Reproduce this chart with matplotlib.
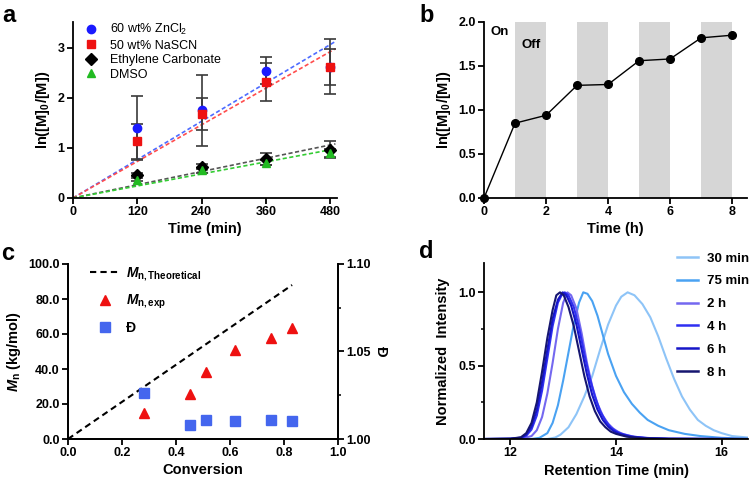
import numpy as np
import matplotlib
matplotlib.use("Agg")
from matplotlib import pyplot as plt
from matplotlib.lines import Line2D

plt.rcParams['font.family'] = ['Liberation Sans', 'DejaVu Sans']
plt.rcParams['mathtext.fontset'] = 'custom'
plt.rcParams['mathtext.it'] = 'Liberation Sans:italic:bold'
plt.rcParams['mathtext.rm'] = 'Liberation Sans:bold'
plt.rcParams['mathtext.bf'] = 'Liberation Sans:bold'
plt.rcParams['axes.linewidth'] = 1.3
plt.rcParams['xtick.major.width'] = 1.3
plt.rcParams['ytick.major.width'] = 1.3
plt.rcParams['xtick.minor.width'] = 1.1
plt.rcParams['ytick.minor.width'] = 1.1
plt.rcParams['xtick.major.size'] = 4
plt.rcParams['ytick.major.size'] = 4
plt.rcParams['ytick.minor.size'] = 2.5

# ---- panel a: kinetics in different solvents
time_min = [120, 240, 360, 480]
zncl2 = [1.40, 1.75, 2.54, 2.62]
zncl2_err = [0.64, 0.70, 0.27, 0.55]
nascn = [1.14, 1.68, 2.32, 2.62]
nascn_err = [0.35, 0.31, 0.37, 0.36]
ec = [0.47, 0.63, 0.78, 0.97]
ec_err = [0.03, 0.05, 0.12, 0.17]
dmso = [0.37, 0.56, 0.71, 0.90]
dmso_err = [0.03, 0.05, 0.05, 0.08]

# ---- panel b: on/off light switching
time_h = [0, 1, 2, 3, 4, 5, 6, 7, 8]
ln_conv = [0.0, 0.85, 0.94, 1.28, 1.29, 1.56, 1.58, 1.82, 1.85]
off_periods = [(1, 2), (3, 4), (5, 6), (7, 8)]

# ---- panel c: Mn and dispersity vs conversion
theo_conv = [0.0, 0.83]
theo_mn = [0.0, 88.0]
conversion = [0.28, 0.45, 0.51, 0.62, 0.75, 0.83]
mn_exp = [15.0, 26.0, 38.5, 51.0, 57.5, 63.5]
dispersity = [1.026, 1.008, 1.011, 1.010, 1.011, 1.010]

# ---- panel d: GPC traces
gpc_labels = ['30 min', '75 min', '2 h', '4 h', '6 h', '8 h']
gpc_colors = ['#8ec4f7', '#4aa2f2', '#7468f0', '#2f2ff2', '#1616c8', '#161670']
rt_30 = [11.5, 12.7, 12.85, 12.95, 13.1, 13.25, 13.4, 13.55, 13.7, 13.85, 14.0, 14.1, 14.22,
         14.35, 14.5, 14.65, 14.8, 14.95, 15.1, 15.25, 15.4, 15.55, 15.7, 15.85, 16.0, 16.2, 16.5]
it_30 = [0, 0, 0.01, 0.03, 0.08, 0.17, 0.29, 0.43, 0.61, 0.78, 0.91, 0.97, 1.0,
         0.98, 0.92, 0.83, 0.70, 0.55, 0.41, 0.29, 0.20, 0.13, 0.09, 0.06, 0.04, 0.02, 0.01]
rt_75 = [11.5, 12.4, 12.55, 12.7, 12.8, 12.9, 13.0, 13.1, 13.2, 13.3, 13.38, 13.46, 13.55, 13.65,
         13.75, 13.85, 14.0, 14.15, 14.3, 14.45, 14.6, 14.8, 15.0, 15.3, 15.6, 16.0, 16.5]
it_75 = [0, 0, 0.008, 0.04, 0.11, 0.23, 0.40, 0.59, 0.78, 0.93, 1.0, 0.99, 0.94, 0.84,
         0.71, 0.58, 0.43, 0.32, 0.24, 0.18, 0.13, 0.09, 0.06, 0.035, 0.02, 0.008, 0.002]
rt_2h = [11.5, 12.2, 12.4, 12.5, 12.6, 12.7, 12.8, 12.9, 13.0, 13.08, 13.15, 13.25, 13.35,
         13.45, 13.55, 13.65, 13.75, 13.85, 13.95, 14.05, 14.15, 14.35, 14.65, 15.0, 16.5]
it_2h = [0, 0.002, 0.02, 0.06, 0.15, 0.31, 0.52, 0.75, 0.93, 1.0, 0.98, 0.89, 0.72,
         0.52, 0.36, 0.24, 0.16, 0.105, 0.07, 0.047, 0.032, 0.015, 0.006, 0.002, 0]
rt_4h = [11.5, 12.0, 12.2, 12.3, 12.4, 12.5, 12.6, 12.7, 12.8, 12.9, 12.97, 13.03, 13.1, 13.2,
         13.3, 13.4, 13.5, 13.6, 13.7, 13.8, 13.9, 14.0, 14.1, 14.3, 14.6, 15.0, 16.5]
it_4h = [0, 0.001, 0.007, 0.022, 0.065, 0.16, 0.33, 0.55, 0.77, 0.93, 0.98, 1.0, 0.98, 0.90,
         0.76, 0.58, 0.42, 0.29, 0.19, 0.125, 0.08, 0.053, 0.036, 0.017, 0.006, 0.002, 0]
rt_6h = [11.5, 12.0, 12.2, 12.3, 12.4, 12.5, 12.6, 12.7, 12.8, 12.9, 12.99, 13.06, 13.15,
         13.25, 13.35, 13.45, 13.55, 13.65, 13.75, 13.85, 13.95, 14.05, 14.25, 14.55, 15.0, 16.5]
it_6h = [0, 0.002, 0.009, 0.03, 0.085, 0.20, 0.39, 0.61, 0.82, 0.95, 1.0, 0.98, 0.91,
         0.78, 0.61, 0.44, 0.30, 0.20, 0.13, 0.085, 0.055, 0.037, 0.017, 0.006, 0.001, 0]
rt_8h = [11.5, 12.0, 12.2, 12.3, 12.4, 12.5, 12.6, 12.7, 12.8, 12.87, 12.94, 13.01, 13.1,
         13.2, 13.3, 13.4, 13.5, 13.6, 13.7, 13.8, 13.9, 14.0, 14.2, 14.5, 15.0, 16.5]
it_8h = [0, 0.002, 0.012, 0.04, 0.11, 0.25, 0.46, 0.69, 0.88, 0.98, 1.0, 0.98, 0.90,
         0.77, 0.60, 0.43, 0.29, 0.19, 0.12, 0.08, 0.05, 0.035, 0.016, 0.005, 0.001, 0]
gpc_rt = [rt_30, rt_75, rt_2h, rt_4h, rt_6h, rt_8h]
gpc_int = [it_30, it_75, it_2h, it_4h, it_6h, it_8h]

TICK = 9
LAB = 10.5

fig = plt.figure(figsize=(7.5, 4.87), dpi=100)


def px_axes(l, t, r, b):
    return fig.add_axes([l / 750, (487 - b) / 487, (r - l) / 750, (b - t) / 487])


def style(ax, right=False):
    ax.spines['top'].set_visible(False)
    if not right:
        ax.spines['right'].set_visible(False)
    ax.tick_params(labelsize=TICK, pad=2)
    for lab in ax.get_xticklabels() + ax.get_yticklabels():
        lab.set_fontweight('bold')


# ----- a
ax = px_axes(73, 22, 337, 198)
series = [
    (zncl2, zncl2_err, 'o', '#1a1aff', '#4d6bff', 6.0, '60 wt% ZnCl$_\\mathregular{2}$'),
    (nascn, nascn_err, 's', '#ee1111', '#ff4d4d', 5.5, '50 wt% NaSCN'),
    (ec, ec_err, 'D', 'black', '#555555', 6.0, 'Ethylene Carbonate'),
    (dmso, dmso_err, '^', '#22bb22', '#33cc33', 6.0, 'DMSO'),
]
t = np.array(time_min, dtype=float)
tfit = np.array([0, 490.0])
handles = []
for y, e, m, c, lc, ms, lab in series:
    y = np.array(y)
    k = np.sum(t * y) / np.sum(t * t)
    ax.plot(tfit, k * tfit, ls=(0, (2.5, 1.5)), color=lc, lw=1.2, zorder=2)
    ax.errorbar(t, y, yerr=e, fmt='none', ecolor='#3a3a3a', elinewidth=1.2,
                capsize=4.5, capthick=1.2, zorder=3)
    h, = ax.plot(t, y, ls='none', marker=m, color=c, ms=ms, zorder=4, label=lab)
    handles.append(h)
ax.set_xlim(0, 493)
ax.set_ylim(0, 3.52)
ax.set_xticks([0, 120, 240, 360, 480])
ax.set_yticks([0, 1, 2, 3])
style(ax)
ax.set_xlabel('Time (min)', fontsize=LAB, fontweight='bold', labelpad=3)
ax.set_ylabel('ln([M]$_\\mathregular{0}$/[M])', fontsize=LAB, fontweight='bold', labelpad=4)
ax.legend(handles=handles, loc='upper left', bbox_to_anchor=(0.04, 1.0), frameon=False,
          fontsize=9, handlelength=1.2, handletextpad=0.9, labelspacing=0.2,
          borderpad=0, borderaxespad=0, numpoints=1)

# ----- b
ax = px_axes(484, 22, 747, 198)
for s, e in off_periods:
    ax.axvspan(s, e, color='#d6d6d6', lw=0, zorder=0)
ax.plot(time_h, ln_conv, '-o', color='black', lw=1.0, ms=5.5, clip_on=False, zorder=3)
ax.set_xlim(0, 8.48)
ax.set_ylim(0, 2.0)
ax.set_xticks([0, 2, 4, 6, 8])
ax.set_yticks([0, 0.5, 1.0, 1.5, 2.0])
ax.yaxis.set_major_formatter(matplotlib.ticker.FormatStrFormatter('%.1f'))
style(ax)
ax.text(0.22, 1.89, 'On', fontsize=9.5, fontweight='bold', va='center')
ax.text(1.2, 1.74, 'Off', fontsize=9.5, fontweight='bold', va='center')
ax.set_xlabel('Time (h)', fontsize=LAB, fontweight='bold', labelpad=3)
ax.set_ylabel('ln([M]$_\\mathregular{0}$/[M])', fontsize=LAB, fontweight='bold', labelpad=4)

# ----- c
ax = px_axes(68, 264, 338, 439)
h1, = ax.plot(theo_conv, theo_mn, ls=(0, (3, 2)), color='black', lw=1.5,
              label='$M_\\mathregular{n,Theoretical}$')
h2, = ax.plot(conversion, mn_exp, ls='none', marker='^', color='#ee1111', ms=6.5,
              label='$M_\\mathregular{n,exp}$')
ax.set_xlim(0, 1.0)
ax.set_ylim(0, 100)
ax.set_xticks([0, 0.2, 0.4, 0.6, 0.8, 1.0])
ax.set_yticks([0, 20, 40, 60, 80, 100])
ax.xaxis.set_major_formatter(matplotlib.ticker.FormatStrFormatter('%.1f'))
ax.yaxis.set_major_formatter(matplotlib.ticker.FormatStrFormatter('%.1f'))
style(ax, right=True)
ax.set_xlabel('Conversion', fontsize=LAB, fontweight='bold', labelpad=3)
ax.set_ylabel('$M_\\mathregular{n}$ (kg/mol)', fontsize=LAB, fontweight='bold', labelpad=4)
ax2 = ax.twinx()
h3, = ax2.plot(conversion, dispersity, ls='none', marker='s', color='#4466ee', ms=6.5,
               label='Đ')
ax2.set_ylim(1.0, 1.1)
ax2.set_yticks([1.0, 1.05, 1.1])
ax2.set_yticks([1.025, 1.075], minor=True)
ax2.yaxis.set_major_formatter(matplotlib.ticker.FormatStrFormatter('%.2f'))
ax2.spines['top'].set_visible(False)
ax2.tick_params(labelsize=TICK, pad=2)
for lab in ax2.get_yticklabels():
    lab.set_fontweight('bold')
ax2.set_ylabel('Đ', fontsize=LAB, fontweight='bold', rotation=270, labelpad=12)
ax.legend(handles=[h1, h2, h3], loc='upper left', bbox_to_anchor=(0.08, 0.99), frameon=False,
          prop={'size': 10, 'weight': 'bold'}, handlelength=2.2, handletextpad=0.4,
          labelspacing=0.7, borderpad=0, borderaxespad=0, numpoints=1)

# ----- d
ax = px_axes(484, 263, 748, 439)
lh = []
for rt, it, c, lab in zip(gpc_rt, gpc_int, gpc_colors, gpc_labels):
    ax.plot(rt, it, color=c, lw=1.5, label=lab)
    lh.append(Line2D([], [], color=c, lw=1.8))
ax.set_xlim(11.5, 16.5)
ax.set_ylim(0, 1.2)
ax.set_xticks([12, 14, 16])
ax.set_yticks([0, 0.5, 1.0])
ax.set_yticks([0.25, 0.75], minor=True)
ax.yaxis.set_major_formatter(matplotlib.ticker.FormatStrFormatter('%.1f'))
style(ax)
ax.set_xlabel('Retention Time (min)', fontsize=LAB, fontweight='bold', labelpad=3)
ax.set_ylabel('Normalized  Intensity', fontsize=LAB, fontweight='bold', labelpad=6)
ax.legend(lh, gpc_labels, loc='upper left', bbox_to_anchor=(0.73, 1.06), frameon=False,
          prop={'size': 9.5, 'weight': 'bold'}, handlelength=1.6, handletextpad=0.7,
          labelspacing=0.8, borderpad=0, borderaxespad=0)

# panel letters
for x, y, s in [(2, 4, 'a'), (419, 4, 'b'), (1, 242, 'c'), (419, 240, 'd')]:
    fig.text(x / 750, 1 - y / 487, s, fontsize=17, fontweight='bold', va='top', ha='left')

fig.savefig('out.png', dpi=100)
